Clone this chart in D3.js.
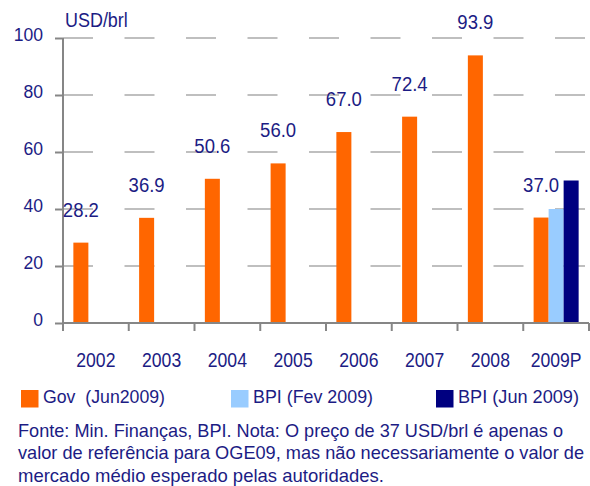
<!DOCTYPE html>
<html>
<head>
<meta charset="utf-8">
<script src="https://cdn.jsdelivr.net/npm/d3@7"></script>
<style>
  body { margin: 0; background: #fff; }
  text { font-family: "Liberation Sans", Arial, sans-serif; fill: #1c1c84; }
</style>
</head>
<body>
<script>
// oil price chart - USD/brl, Gov vs BPI
var years = ["2002", "2003", "2004", "2005", "2006", "2007", "2008", "2009P"];
var seriesNames = ["Gov  (Jun2009)", "BPI (Fev 2009)", "BPI (Jun 2009)"];
var govValues = [28.2, 36.9, 50.6, 56.0, 67.0, 72.4, 93.9, 37.0];
var bpiFevValues = [null, null, null, null, null, null, null, 40];
var bpiJunValues = [null, null, null, null, null, null, null, 50];
var yTicks = [0, 20, 40, 60, 80, 100];
var footnote = [
    "Fonte: Min. Finanças, BPI. Nota: O preço de 37 USD/brl é apenas o",
    "valor de referência para OGE09, mas não necessariamente o valor de",
    "mercado médio esperado pelas autoridades."
];

var colors = ["#ff6600", "#99ccff", "#000080"];
var allSeries = [govValues, bpiFevValues, bpiJunValues];

var width = 590, height = 486;
var svg = d3.select("body").append("svg")
    .attr("width", width)
    .attr("height", height);

// squeeze text a bit, the original font is narrower
function squeeze(sel, f) {
    sel.each(function() {
        var w = this.getComputedTextLength();
        d3.select(this).attr("textLength", w * f).attr("lengthAdjust", "spacingAndGlyphs");
    });
}

var x = d3.scaleBand().domain(years).range([63, 589]).padding(0);
var xs = d3.scaleBand().domain([0, 1, 2]).range([0, x.bandwidth()])
    .paddingInner(0).paddingOuter(0.69);
var y = d3.scaleLinear().domain([0, 100]).range([323, 38]);

// dashed gridlines
svg.selectAll("line.grid")
    .data(yTicks.filter(function(d) { return d > 0; }))
    .enter().append("line")
    .attr("class", "grid")
    .attr("x1", 63).attr("x2", 589)
    .attr("y1", function(d) { return y(d); })
    .attr("y2", function(d) { return y(d); })
    .style("stroke", "#aaaaaa")
    .style("stroke-width", 1.3)
    .style("stroke-dasharray", "30,31.5");

// bars
var flat = [];
allSeries.forEach(function(vals, s) {
    vals.forEach(function(v, i) {
        if (v != null) flat.push({year: years[i], s: s, v: v});
    });
});

svg.selectAll("rect.bar")
    .data(flat)
    .enter().append("rect")
    .attr("class", "bar")
    .attr("x", function(d) { return x(d.year) + xs(d.s); })
    .attr("width", xs.bandwidth())
    .attr("y", function(d) { return y(d.v); })
    .attr("height", function(d) { return y(0) - y(d.v); })
    .style("fill", function(d) { return colors[d.s]; });

// y axis
var yAxis = svg.append("g")
    .attr("transform", "translate(63,0)")
    .call(d3.axisLeft(y).tickValues(yTicks).tickSize(8).tickPadding(12));
// x axis
var xAxis = svg.append("g")
    .attr("transform", "translate(0," + y(0) + ")")
    .call(d3.axisBottom(x).tickSize(0).tickPadding(30));

// x ticks at category boundaries
xAxis.selectAll("line.bound")
    .data(years.concat(["end"]))
    .enter().append("line")
    .attr("class", "bound")
    .attr("x1", function(d, i) { return x.range()[0] + i * x.step(); })
    .attr("x2", function(d, i) { return x.range()[0] + i * x.step(); })
    .attr("y1", 0).attr("y2", 8);

[yAxis, xAxis].forEach(function(g) {
    g.selectAll("path.domain").style("stroke", "#868686").style("stroke-width", 2);
    g.selectAll("line").style("stroke", "#868686").style("stroke-width", 2);
    g.selectAll("text")
        .style("font-family", "'Liberation Sans', Arial, sans-serif")
        .attr("fill", "#1c1c84");
});
yAxis.selectAll("text").style("font-size", "18.7px").attr("dy", "0.15em");
xAxis.selectAll("text").style("font-size", "20px");
squeeze(yAxis.selectAll("text"), 0.94);
squeeze(xAxis.selectAll("text"), 0.88);
yAxis.selectAll("path.domain").attr("d", "M0," + y(0) + "V" + y(100));
xAxis.selectAll("path.domain").attr("d", "M63,0H589");

// value labels on gov bars
svg.selectAll("text.val")
    .data(govValues)
    .enter().append("text")
    .attr("class", "val")
    .attr("x", function(d, i) { return x(years[i]) + xs(0) + xs.bandwidth() / 2; })
    .attr("y", function(d) { return y(d) - 26; })
    .attr("text-anchor", "middle")
    .style("font-size", "19.5px")
    .text(function(d) { return d.toFixed(1); })
    .call(squeeze, 0.95);

// unit label
svg.append("text")
    .attr("x", 65).attr("y", 27)
    .style("font-size", "19.5px")
    .text("USD/brl")
    .call(squeeze, 0.92);

// legend
var legendX = [21, 231, 436];
var legendW = [122, 120, 121];
var legend = svg.selectAll("g.leg")
    .data(seriesNames)
    .enter().append("g")
    .attr("class", "leg")
    .attr("transform", function(d, i) { return "translate(" + legendX[i] + ",390)"; });
legend.append("rect")
    .attr("width", 17.5).attr("height", 17.5)
    .style("fill", function(d, i) { return colors[i]; });
legend.append("text")
    .attr("x", 22).attr("y", 12.7)
    .style("font-size", "19px")
    .attr("xml:space", "preserve")
    .attr("textLength", function(d, i) { return legendW[i]; })
    .attr("lengthAdjust", "spacingAndGlyphs")
    .text(function(d) { return d; });

// footnote
var noteW = [545, 566, 366];
svg.selectAll("text.note")
    .data(footnote)
    .enter().append("text")
    .attr("class", "note")
    .attr("x", 18)
    .attr("y", function(d, i) { return 436.5 + i * 22.5; })
    .style("font-size", "17.8px")
    .attr("textLength", function(d, i) { return noteW[i]; })
    .attr("lengthAdjust", "spacingAndGlyphs")
    .text(function(d) { return d; });
</script>
</body>
</html>
